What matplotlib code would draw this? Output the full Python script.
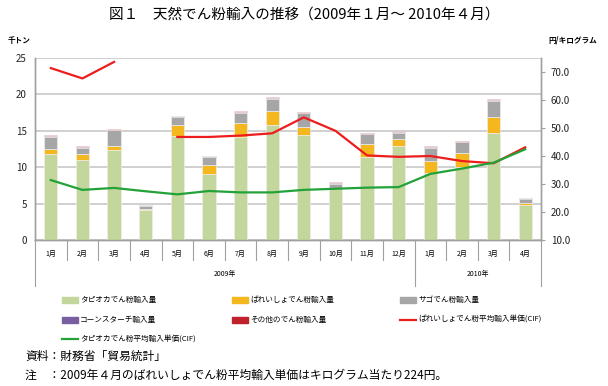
"""Natural starch imports, Jan 2009 - Apr 2010: stacked bars + unit price lines."""

import matplotlib

matplotlib.use("Agg")
import matplotlib.pyplot as plt
import numpy as np
from matplotlib.lines import Line2D
from matplotlib.patches import Rectangle

plt.rcParams["font.family"] = ["Noto Sans CJK JP", "DejaVu Sans"]

MONTHS = ["1月", "2月", "3月", "4月", "5月", "6月", "7月", "8月", "9月", "10月", "11月", "12月",
          "1月", "2月", "3月", "4月"]
YEARS = ["2009年", "2010年"]
YEAR_SPANS = [12, 4]

# thousand tonnes
tapioca = [11.8, 11.05, 12.3, 4.1, 14.35, 9.0, 14.2, 15.8, 14.4, 7.1, 11.35, 12.9, 9.2, 10.0, 14.75, 4.8]
potato = [0.7, 0.7, 0.55, 0.1, 1.4, 1.25, 1.9, 1.9, 1.17, 0.02, 1.85, 1.0, 1.7, 2.0, 2.2, 0.33]
sago = [1.6, 0.9, 2.2, 0.45, 1.15, 1.2, 1.4, 1.67, 1.83, 0.62, 1.3, 0.84, 1.8, 1.4, 2.15, 0.5]
corn = [0.17, 0.1, 0.1, 0.1, 0.12, 0.05, 0.05, 0.1, 0.1, 0.12, 0.1, 0.15, 0.1, 0.1, 0.1, 0.08]
other = [0.15, 0.1, 0.1, 0.12, 0.05, 0.1, 0.12, 0.13, 0.13, 0.06, 0.1, 0.08, 0.15, 0.15, 0.18, 0.1]

# yen / kg (CIF); Apr 2009 potato price (224) is off the scale and left out of the line
potato_price = [71.4, 67.7, 73.6, np.nan, 46.8, 46.8, 47.3, 48.1, 53.8, 49.0, 40.2, 39.7, 40.0, 38.2, 37.4, 43.1]
tapioca_price = [31.4, 27.9, 28.6, 27.4, 26.3, 27.5, 27.0, 27.0, 27.9, 28.3, 28.7, 28.9, 33.6, 35.5, 37.6, 42.4]

BAR_SERIES = [
    ("タピオカでん粉輸入量", tapioca, "#c3d69b"),
    ("ばれいしょでん粉輸入量", potato, "#f5b71e"),
    ("サゴでん粉輸入量", sago, "#a6a6a6"),
    ("コーンスターチ輸入量", corn, "#7a5fa0"),
    ("その他のでん粉輸入量", other, "#c0222b"),
]
LINE_SERIES = [
    ("ばれいしょでん粉平均輸入単価(CIF)", potato_price, "#ee1d1d"),
    ("タピオカでん粉平均輸入単価(CIF)", tapioca_price, "#23a23a"),
]

W, H = 608, 386
fig = plt.figure(figsize=(W / 100, H / 100), dpi=100)
ax = fig.add_axes([35 / W, 1 - 240 / H, (541 - 35) / W, (240 - 58) / H])
ax2 = ax.twinx()

x = np.arange(len(MONTHS))
bottom = np.zeros(len(MONTHS))
for name, vals, col in BAR_SERIES:
    ax.bar(x, vals, width=0.42, bottom=bottom, color=col, edgecolor="#eeeeee", linewidth=0.5, zorder=3)
    bottom += np.array(vals)

for name, vals, col in LINE_SERIES:
    ax2.plot(x, vals, color=col, lw=1.6, zorder=4)

ax.set_xlim(-0.5, len(MONTHS) - 0.5)
ax.set_ylim(0, 25)
ax.set_yticks(range(0, 26, 5))
ax2.set_ylim(10, 75)
ax2.set_yticks(range(10, 71, 10))
ax2.set_yticklabels([f"{v:.1f}" for v in range(10, 71, 10)])

ax.yaxis.grid(True, color="#c8c8c8", lw=1.2, zorder=0)
ax.set_axisbelow(True)
for a in (ax, ax2):
    a.spines["top"].set_visible(False)
    for s in ("left", "right", "bottom"):
        a.spines[s].set_color("#a0a0a0")
        a.spines[s].set_linewidth(1.0)
ax.tick_params(axis="y", length=0, labelsize=7, pad=6, colors="#222222")
ax2.tick_params(axis="y", length=3, color="#a0a0a0", labelsize=7, pad=4, labelcolor="#222222")

# two-level category axis
ax.set_xticks(x)
ax.set_xticklabels(MONTHS, fontsize=5)
ax.tick_params(axis="x", length=0, pad=7)
trans = ax.get_xaxis_transform()
short, long_ = -20 / 182, -46 / 182
bounds = np.cumsum([0] + YEAR_SPANS) - 0.5
for b in np.arange(len(MONTHS) + 1) - 0.5:
    ax.plot([b, b], [0, long_ if b in bounds else short], transform=trans,
            color="#a0a0a0", lw=0.8, clip_on=False)
for i, yr in enumerate(YEARS):
    ax.text((bounds[i] + bounds[i + 1]) / 2, -34 / 182, yr, transform=trans,
            ha="center", va="center", fontsize=5)

fig.text(304 / W, 1 - 15 / H, "図１　天然でん粉輸入の推移（2009年１月～ 2010年４月）",
         ha="center", va="center", fontsize=10.5)
fig.text(8 / W, 1 - 40 / H, "千トン", ha="left", va="center", fontsize=5.5, fontweight="bold")
fig.text(548 / W, 1 - 40 / H, "円/キログラム", ha="left", va="center", fontsize=5.5, fontweight="bold")

# manual legend, laid out row-wise like the original
items = [(n, c, "bar") for n, _, c in BAR_SERIES] + [(n, c, "line") for n, _, c in LINE_SERIES]
col_x = [62, 232, 400]
row_y = [300, 320, 339]
for k, (name, col, kind) in enumerate(items):
    cx, cy = col_x[k % 3], row_y[k // 3]
    if kind == "bar":
        fig.add_artist(Rectangle((cx / W, 1 - (cy + 3) / H), 16 / W, 6 / H,
                                 transform=fig.transFigure, color=col))
    else:
        fig.add_artist(Line2D([cx / W, (cx + 16) / W], [1 - cy / H] * 2,
                              transform=fig.transFigure, color=col, lw=1.6))
    fig.text((cx + 18) / W, 1 - cy / H, name, ha="left", va="center", fontsize=5.5)

fig.text(25 / W, 1 - 356 / H, "資料：財務省「貿易統計」", ha="left", va="center", fontsize=8.5)
fig.text(25 / W, 1 - 375 / H, "注　：2009年４月のばれいしょでん粉平均輸入単価はキログラム当たり224円。",
         ha="left", va="center", fontsize=8.5)

fig.savefig("out.png", dpi=100)
